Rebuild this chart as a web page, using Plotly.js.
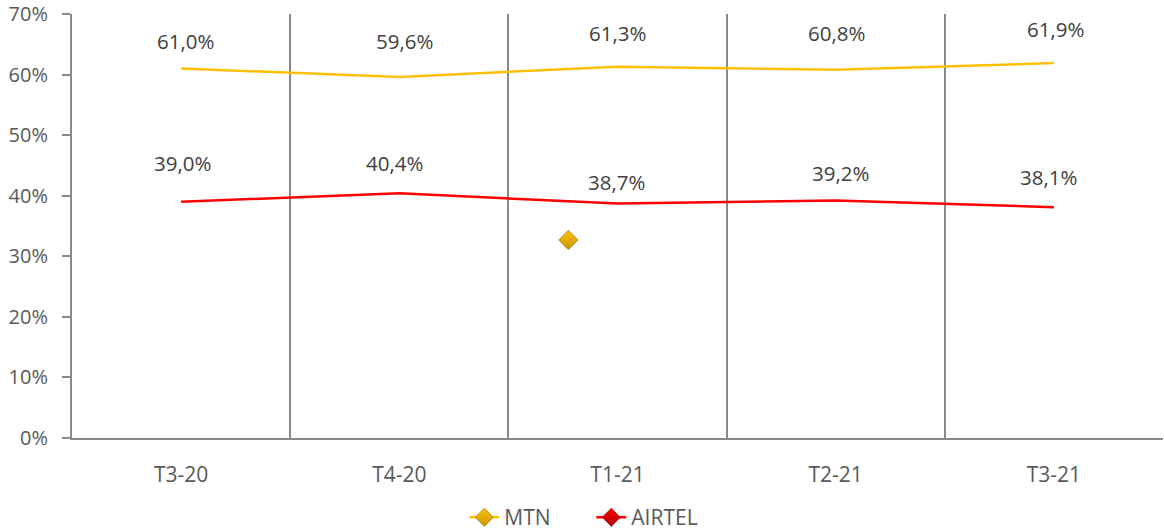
<!DOCTYPE html>
<html><head><meta charset="utf-8">
<script src="https://cdn.plot.ly/plotly-3.0.1.min.js"></script>
<style>html,body{margin:0;padding:0;background:#fff;}#chart{width:1164px;height:532px;}</style>
</head><body><div id="chart"></div>
<script>
const categories = ['T3-20','T4-20','T1-21','T2-21','T3-21'];
const mtn = [61.0, 59.6, 61.3, 60.8, 61.9];
const airtel = [39.0, 40.4, 38.7, 39.2, 38.1];
const mtnLabels = ['61,0%','59,6%','61,3%','60,8%','61,9%'];
const airtelLabels = ['39,0%','40,4%','38,7%','39,2%','38,1%'];
const strayX = [1.775];
const strayY = [32.7];
const yTicks = [0,10,20,30,40,50,60,70];
const yTickText = ['0%','10%','20%','30%','40%','50%','60%','70%'];

const idx = categories.map((c,i)=>i);
const FONT = 'Open Sans, sans-serif';
const mtnShiftY = [28, 36, 34, 37, 34];
const mtnShiftX = [4, 5, 0, 1, 2];
const airShiftY = [39, 30, 22, 28, 30];
const airShiftX = [1, -5, -1, 5, -5];

const traces = [
  {x: idx, y: mtn, mode:'lines', line:{color:'#FFC000', width:2.5}, showlegend:false, hoverinfo:'skip'},
  {x: idx, y: airtel, mode:'lines', line:{color:'#FF0000', width:2.5}, showlegend:false, hoverinfo:'skip'},
  {x: strayX, y: strayY, mode:'markers', showlegend:false, hoverinfo:'skip',
   marker:{symbol:'diamond', size:15, color:'#FFC000', gradient:{type:'vertical', color:'#C99700'}, line:{color:'#8a6a00', width:0.6}}},
  {x:[null], y:[null], name:'MTN', mode:'lines+markers', line:{color:'#FFC000', width:2.5},
   marker:{symbol:'diamond', size:14, color:'#FFC000', gradient:{type:'vertical', color:'#C99700'}, line:{color:'#8a6a00', width:0.6}}},
  {x:[null], y:[null], name:'AIRTEL', mode:'lines+markers', line:{color:'#FF0000', width:2.5},
   marker:{symbol:'diamond', size:14, color:'#FF0000', gradient:{type:'vertical', color:'#B00000'}, line:{color:'#900000', width:0.6}}}
];

const annotations = [];
mtn.forEach((v,i)=>annotations.push({x:i, y:v, text:mtnLabels[i], showarrow:false, xshift:mtnShiftX[i], yshift:mtnShiftY[i], font:{family:FONT, size:20.5, color:'#404040'}}));
airtel.forEach((v,i)=>annotations.push({x:i, y:v, text:airtelLabels[i], showarrow:false, xshift:airShiftX[i], yshift:airShiftY[i], font:{family:FONT, size:20.5, color:'#404040'}}));

const layout = {
  width:1164, height:532,
  margin:{l:72, r:1, t:14, b:94},
  paper_bgcolor:'#fff', plot_bgcolor:'#fff',
  font:{family:FONT, size:20, color:'#595959'},
  xaxis:{
    range:[-0.5, 4.5], tickmode:'array', tickvals: idx, ticktext: categories,
    showgrid:false, zeroline:false, showline:true, linecolor:'#898989', linewidth:2,
    ticks:'outside', ticklen:17, tickcolor:'rgba(0,0,0,0)',
    tickfont:{family:FONT, size:21, color:'#595959'},
    minor:{tickmode:'array', tickvals:[0.5,1.5,2.5,3.5,4.5], showgrid:true, gridcolor:'#898989', gridwidth:2, ticks:''},
    automargin:false, fixedrange:true
  },
  yaxis:{
    range:[0,70], tickmode:'array', tickvals:yTicks, ticktext:yTickText,
    showgrid:false, zeroline:false, showline:true, linecolor:'#898989', linewidth:2,
    ticks:'outside', ticklen:8, tickcolor:'#898989', tickwidth:2,
    ticklabelstandoff:10,
    tickfont:{family:FONT, size:20, color:'#595959'},
    automargin:false, fixedrange:true
  },
  legend:{orientation:'h', x:0.508, xref:'container', xanchor:'center', y:0.027, yref:'container', yanchor:'middle', font:{family:FONT, size:21, color:'#595959'}, entrywidth:82, entrywidthmode:'pixels', tracegroupgap:0},
  annotations: annotations,
  showlegend:true
};
Plotly.newPlot('chart', traces, layout, {displayModeBar:false, staticPlot:true});
</script></body></html>
